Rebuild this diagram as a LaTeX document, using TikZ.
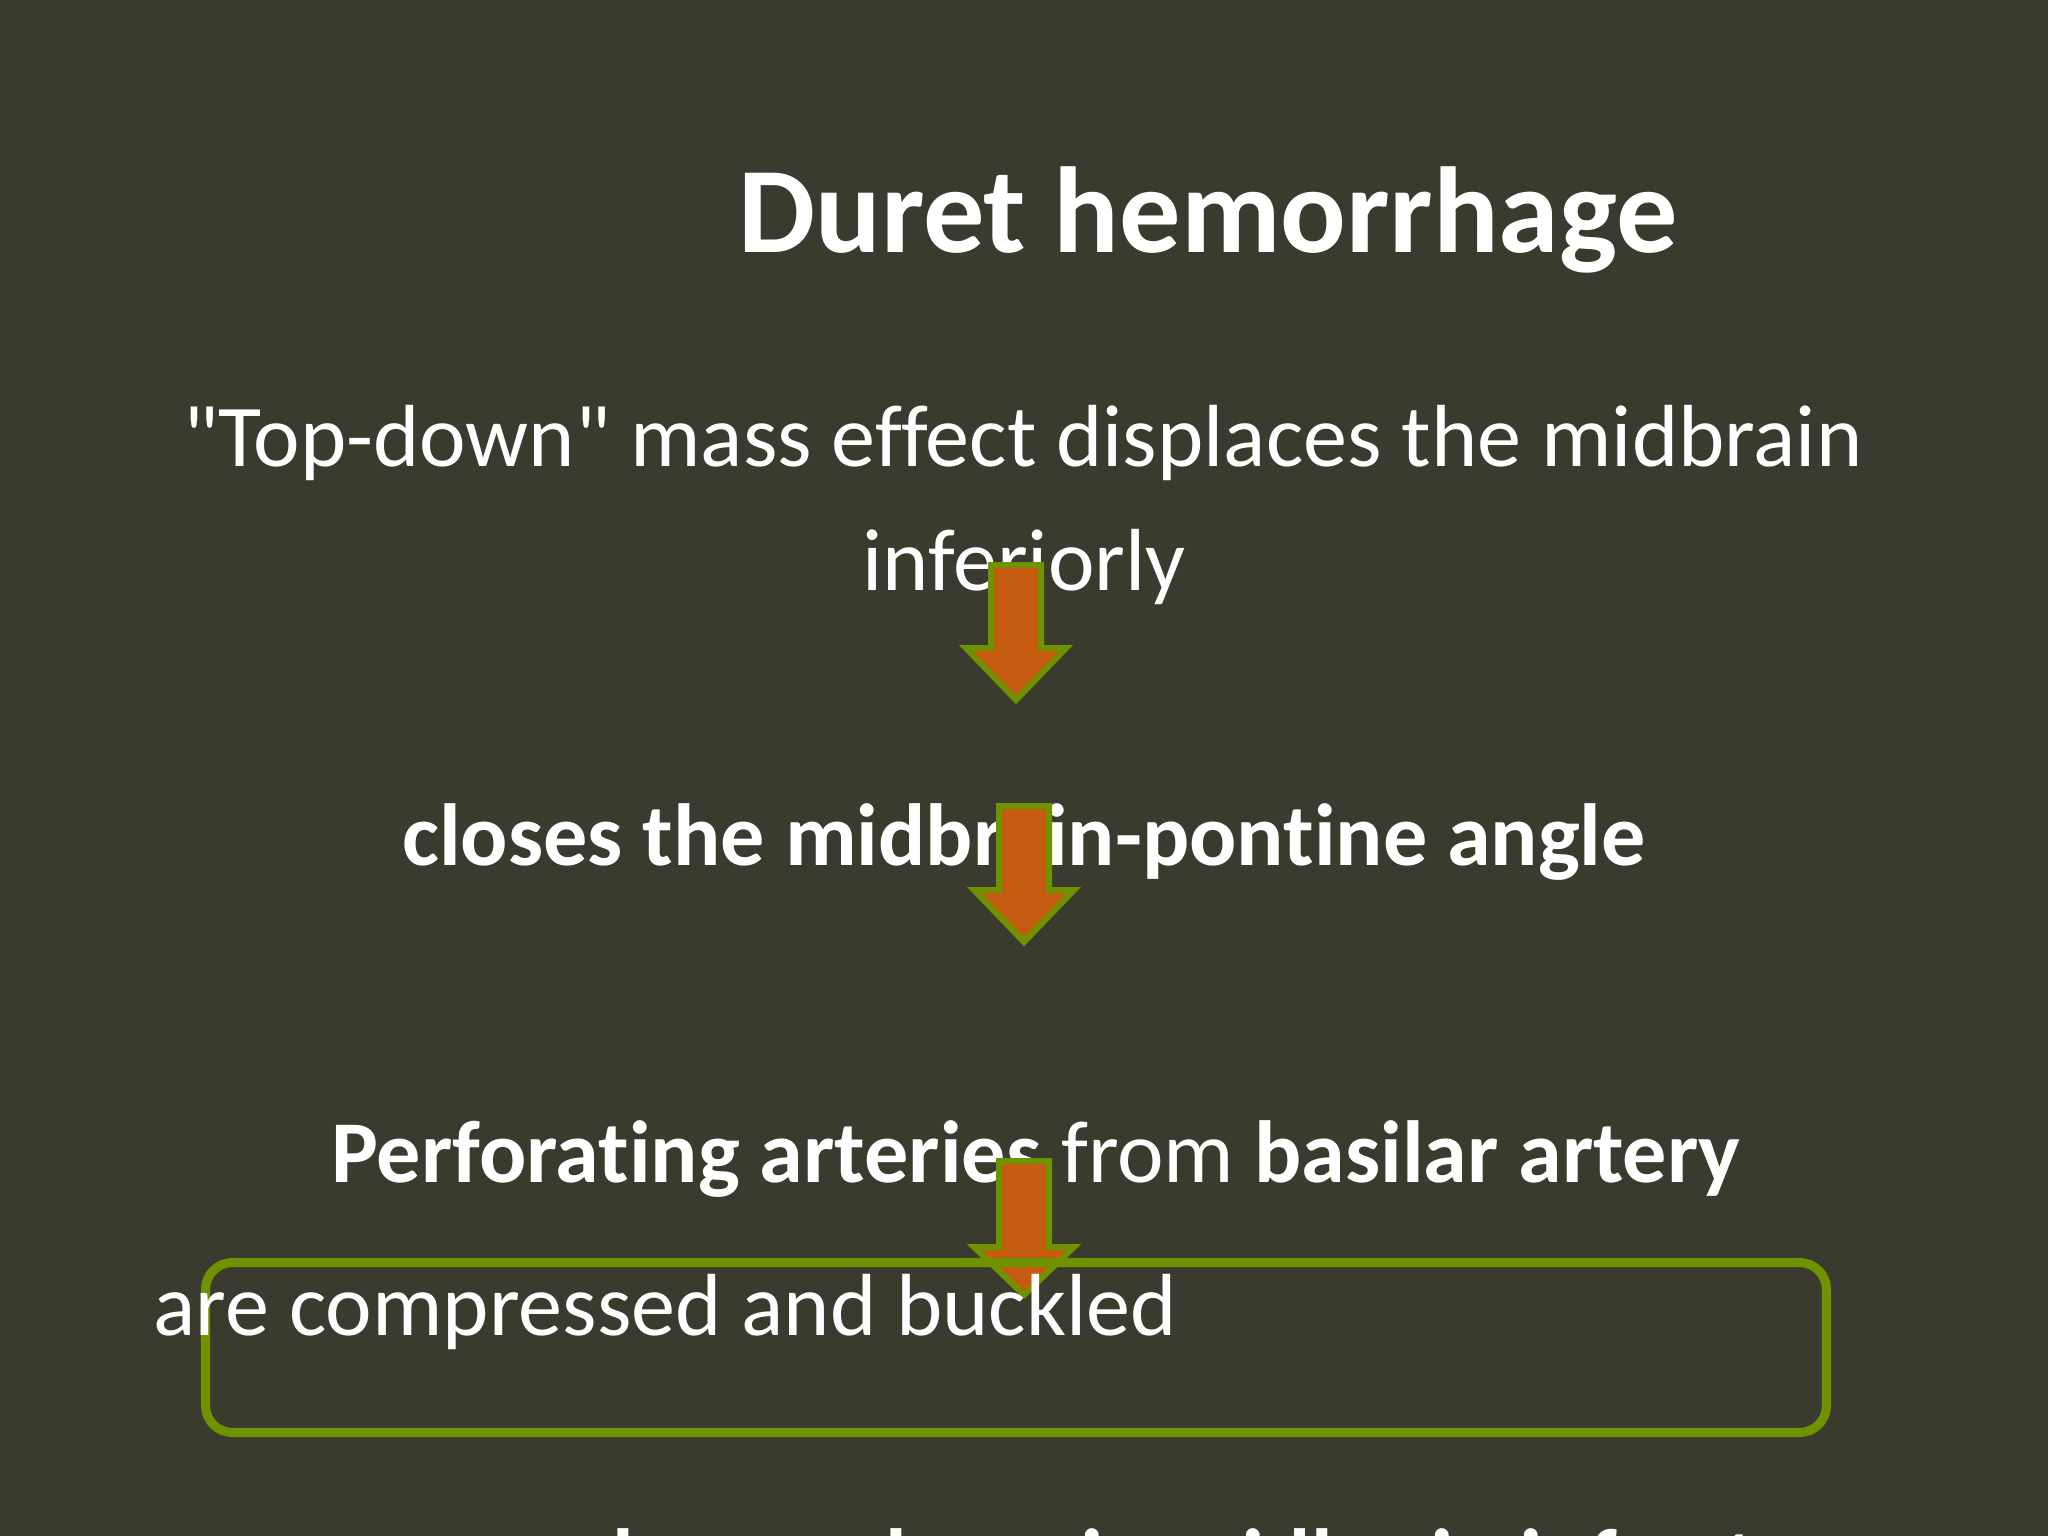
\documentclass[tikz,border=0pt]{standalone}
\usepackage{fontspec}
\setmainfont{Carlito}[Ligatures={NoCommon,TeXOff}]

\definecolor{slidebg}{RGB}{59,58,46}
\definecolor{leafgreen}{RGB}{110,146,0}
\definecolor{rustorange}{RGB}{197,90,17}

\tikzset{
    bodytext/.style={text=white, inner sep=0pt, font=\fontsize{31}{37}\selectfont},
    titletext/.style={text=white, inner sep=0pt, font=\fontsize{43}{50}\selectfont\bfseries},
    downarrow/.style={fill=rustorange, draw=leafgreen, line width=2.1pt, line join=miter},
    framebox/.style={draw=leafgreen, line width=3.2pt, rounded corners=9.5pt}
}

\begin{document}
\begin{tikzpicture}[x=0.3516pt, y=-0.3516pt]
        \useasboundingbox (0,0) rectangle (2048,1536);
        \clip (0,0) rectangle (2048,1536);
        \fill[slidebg] (0,0) rectangle (2048,1536);

        \node[titletext, anchor=base] (title) at (1208,252) {Duret hemorrhage};
        \node[bodytext, anchor=base] (mass) at (1023,466) {"Top-down" mass effect displaces the midbrain};
        \node[bodytext, anchor=base] (infer) at (1024,590) {inferiorly};
        \node[bodytext, anchor=base, font=\fontsize{31}{37}\selectfont\bfseries] (angle) at (1024,865) {closes the midbrain-pontine angle};
        \node[bodytext, anchor=base] (perf) at (1036,1182) {\textbf{Perforating arteries} from \textbf{basilar artery}};

        % block arrows between the steps
        \draw[downarrow] (991,565) -- (1041,565) -- (1041,648) -- (1066,648) -- (1016,700) -- (966,648) -- (991,648) -- cycle;
        \draw[downarrow] (999,806) -- (1049,806) -- (1049,890) -- (1074,890) -- (1024,942) -- (974,890) -- (999,890) -- cycle;
        \draw[downarrow] (999,1161) -- (1049,1161) -- (1049,1247) -- (1074,1247) -- (1024,1295) -- (974,1247) -- (999,1247) -- cycle;

        \draw[framebox] (205.5,1262.5) rectangle (1826.5,1432.5);

        \node[bodytext, anchor=base west] (buckled) at (153,1335) {are compressed and buckled};
        \node[bodytext, anchor=base east, font=\fontsize{31}{37}\selectfont\bfseries] (bleed) at (1757,1590) {hemorrhage in midbrain infarct};
\end{tikzpicture}
\end{document}
